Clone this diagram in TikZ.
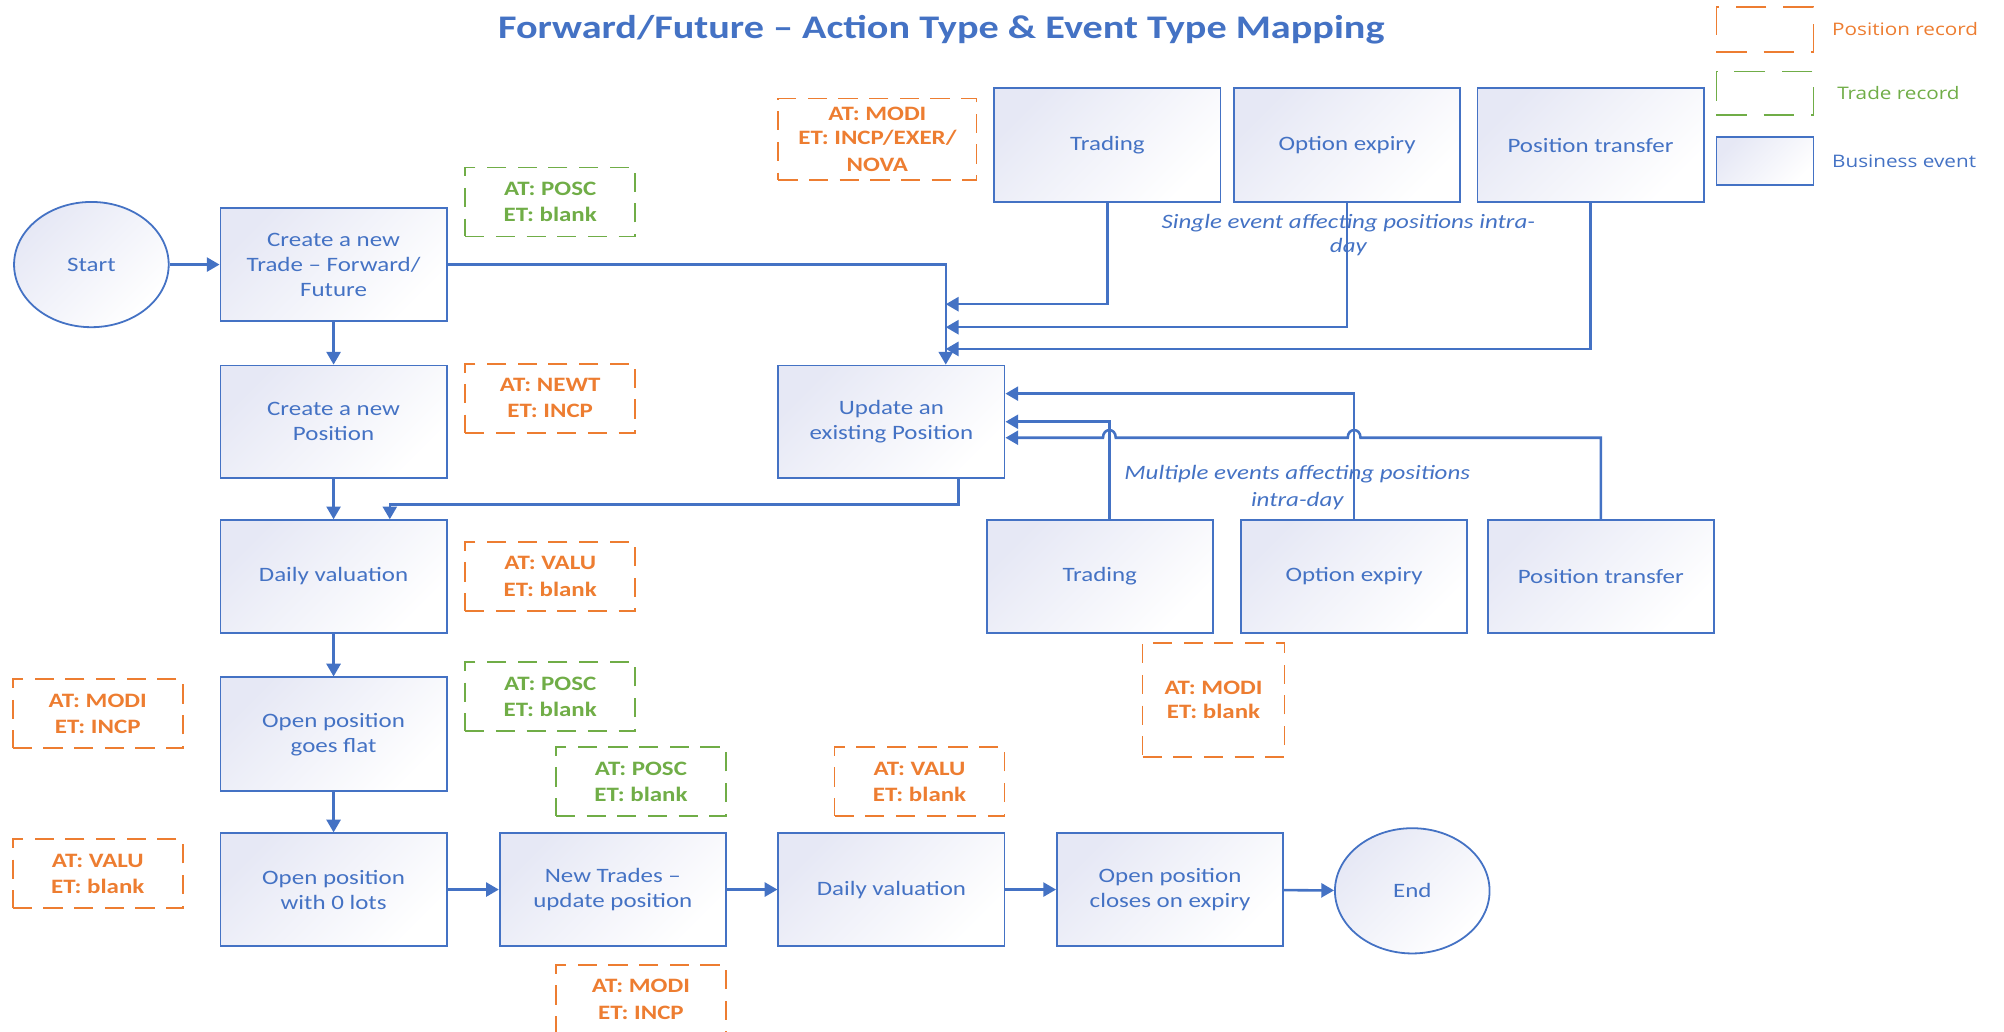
\documentclass[tikz,border=0pt]{standalone}
\usepackage{fontspec}
\setmainfont[FakeStretch=1.22]{Carlito}
\newfontfamily\legfont[FakeStretch=1.2]{Open Sans}
\usetikzlibrary{arrows.meta,shapes.geometric,calc}
\definecolor{lblue}{HTML}{4472C4}
\definecolor{orng}{HTML}{ED7D31}
\definecolor{grn}{HTML}{70AD47}
\definecolor{evfill}{HTML}{E6E8F5}
\begin{document}
\begin{tikzpicture}[x=1pt,y=-1pt,
  evbox/.style={draw=lblue, line width=1.4pt, top color=evfill, bottom color=white, shading angle=45,
    minimum width=177pt, minimum height=88pt, inner sep=2pt, align=center, text=lblue,
    font=\fontsize{16}{19.5}\selectfont},
  term/.style={ellipse, draw=lblue, line width=1.4pt, top color=evfill, bottom color=white, shading angle=45,
    minimum width=121pt, minimum height=98pt, inner sep=0pt, text=lblue, font=\fontsize{16}{19.5}\selectfont},
  posrec/.style={draw=orng, line width=1.4pt, dash pattern=on 15pt off 9pt, text=orng, align=center,
    font=\bfseries\fontsize{16}{20.5}\selectfont, inner sep=0pt, minimum width=133pt, minimum height=54pt},
  trdrec/.style={posrec, draw=grn, text=grn},
  legdash/.style={dash pattern=on 24pt off 13pt},
  conn/.style={draw=lblue, line width=2pt, -{Triangle[length=10pt,width=11pt]}},
  lnote/.style={text=lblue, align=center, font=\itshape\fontsize{16}{18.5}\selectfont},
  legtext/.style={anchor=west, font=\legfont\fontsize{13.5}{16}\selectfont}
]
\useasboundingbox (0,0) rectangle (1568,807);

% title
\node[font=\bfseries\fontsize{25.8}{30}\selectfont, text=lblue] (title) at (736.5,23)
  {Forward/Future – Action Type \& Event Type Mapping};

% legend
\node[posrec, legdash, minimum width=76pt, minimum height=35pt] (lg1) at (1381,23) {};
\node[trdrec, legdash, minimum width=76pt, minimum height=34pt] (lg2) at (1381,73) {};
\node[evbox, minimum width=76pt, minimum height=38pt] (lg3) at (1381,126) {};
\node[legtext, text=orng] (lt1) at (1430,23) {Position record};
\node[legtext, text=grn] (lt2) at (1434,73) {Trade record};
\node[legtext, text=lblue] (lt3) at (1430,126) {Business event};

% terminals
\node[term] (startn) at (71.5,207) {Start};
\node[term] (endn) at (1105,697) {End};

% main flow boxes
\node[evbox] (ct) at (261,207) {Create a new\\Trade – Forward/\\Future};
\node[evbox] (cp) at (261,330) {Create a new\\Position};
\node[evbox] (dv) at (261,451) {Daily valuation};
\node[evbox, minimum height=89pt] (gf) at (261,574.5) {Open position\\goes flat};
\node[evbox] (zl) at (261,696) {Open position\\with 0 lots};
\node[evbox] (nt) at (479.5,696) {New Trades –\\update position};
\node[evbox] (dv2) at (697.5,696) {Daily valuation};
\node[evbox] (ce) at (915.5,696) {Open position\\closes on expiry};
\node[evbox] (upd) at (697.5,330) {Update an\\existing Position};

% event boxes top
\node[evbox, minimum height=89pt] (trT) at (866.5,113.5) {Trading};
\node[evbox, minimum height=89pt] (oeT) at (1054,113.5) {Option expiry};
\node[evbox, minimum height=89pt] (ptT) at (1244.5,113.5) {Position transfer};
% event boxes bottom
\node[evbox] (trB) at (860.5,451) {Trading};
\node[evbox] (oeB) at (1059.5,451) {Option expiry};
\node[evbox] (ptB) at (1252.5,451) {Position transfer};

% record boxes
\node[posrec, minimum width=155pt, minimum height=64pt, font=\bfseries\fontsize{16}{19}\selectfont] (r1) at (686.5,109) {AT: MODI\\ET: INCP/EXER/\\[2pt]NOVA};
\node[trdrec] (r2) at (430.5,158) {AT: POSC\\ET: blank};
\node[posrec] (r3) at (430.5,311.5) {AT: NEWT\\ET: INCP};
\node[posrec] (r4) at (430.5,451) {AT: VALU\\ET: blank};
\node[posrec] (r5) at (76.5,558.5) {AT: MODI\\ET: INCP};
\node[trdrec] (r6) at (430.5,545) {AT: POSC\\ET: blank};
\node[trdrec] (r7) at (501.5,611.5) {AT: POSC\\ET: blank};
\node[posrec] (r8) at (719.5,611.5) {AT: VALU\\ET: blank};
\node[posrec] (r9) at (76.5,683.5) {AT: VALU\\ET: blank};
\node[posrec] (r10) at (501.5,782) {AT: MODI\\ET: INCP};
\node[posrec, minimum width=111pt, minimum height=89pt, font=\bfseries\fontsize{16}{19}\selectfont] (r11) at (949.5,547.5) {AT: MODI\\ET: blank};

% notes
\node[lnote] (n1) at (1055,184) {Single event affecting positions intra-\\day};
\node[lnote, font=\itshape\fontsize{16}{21}\selectfont] (n2) at (1015,381.5) {Multiple events affecting positions\\intra-day};

% main flow connectors
\draw[conn] (startn) -- (ct);
\draw[conn] (ct) -- (cp);
\draw[conn] (cp) -- (dv);
\draw[conn] (dv) -- (gf);
\draw[conn] (gf) -- (zl);
\draw[conn] (zl) -- (nt);
\draw[conn] (nt) -- (dv2);
\draw[conn] (dv2) -- (ce);
\draw[conn] (ce) -- (endn);

% to update box
\draw[conn] (ct.east) -| ([xshift=42.5pt]upd.north);
\coordinate (a1) at (740,238);
\coordinate (a2) at (740,256);
\coordinate (a3) at (740,273);
\draw[conn] (trT.south) |- (a1);
\draw[conn] (oeT.south) |- (a2);
\draw[conn] (ptT.south) |- (a3);

% update back to daily valuation
\draw[conn] ([xshift=52.5pt]upd.south) -- ++(0,20) -| ([xshift=44pt]dv.north);

% bottom events into update
\draw[conn] ([xshift=7.5pt]trB.north) |- (upd.east);
\draw[conn] (oeB.north) |- ([yshift=22pt]upd.east);
\coordinate (hy) at (0,342.5);
\coordinate (h2) at (oeB.north |- hy);
\coordinate (h1) at ([xshift=7.5pt]trB.north |- hy);
\draw[conn] (ptB.north) |- ([xshift=5pt]h2)
  .. controls +(0,-8) and +(0,-8) .. ([xshift=-5pt]h2)
  -- ([xshift=5pt]h1)
  .. controls +(0,-8) and +(0,-8) .. ([xshift=-5pt]h1)
  -- ([yshift=-12.5pt]upd.east);
\end{tikzpicture}
\end{document}
